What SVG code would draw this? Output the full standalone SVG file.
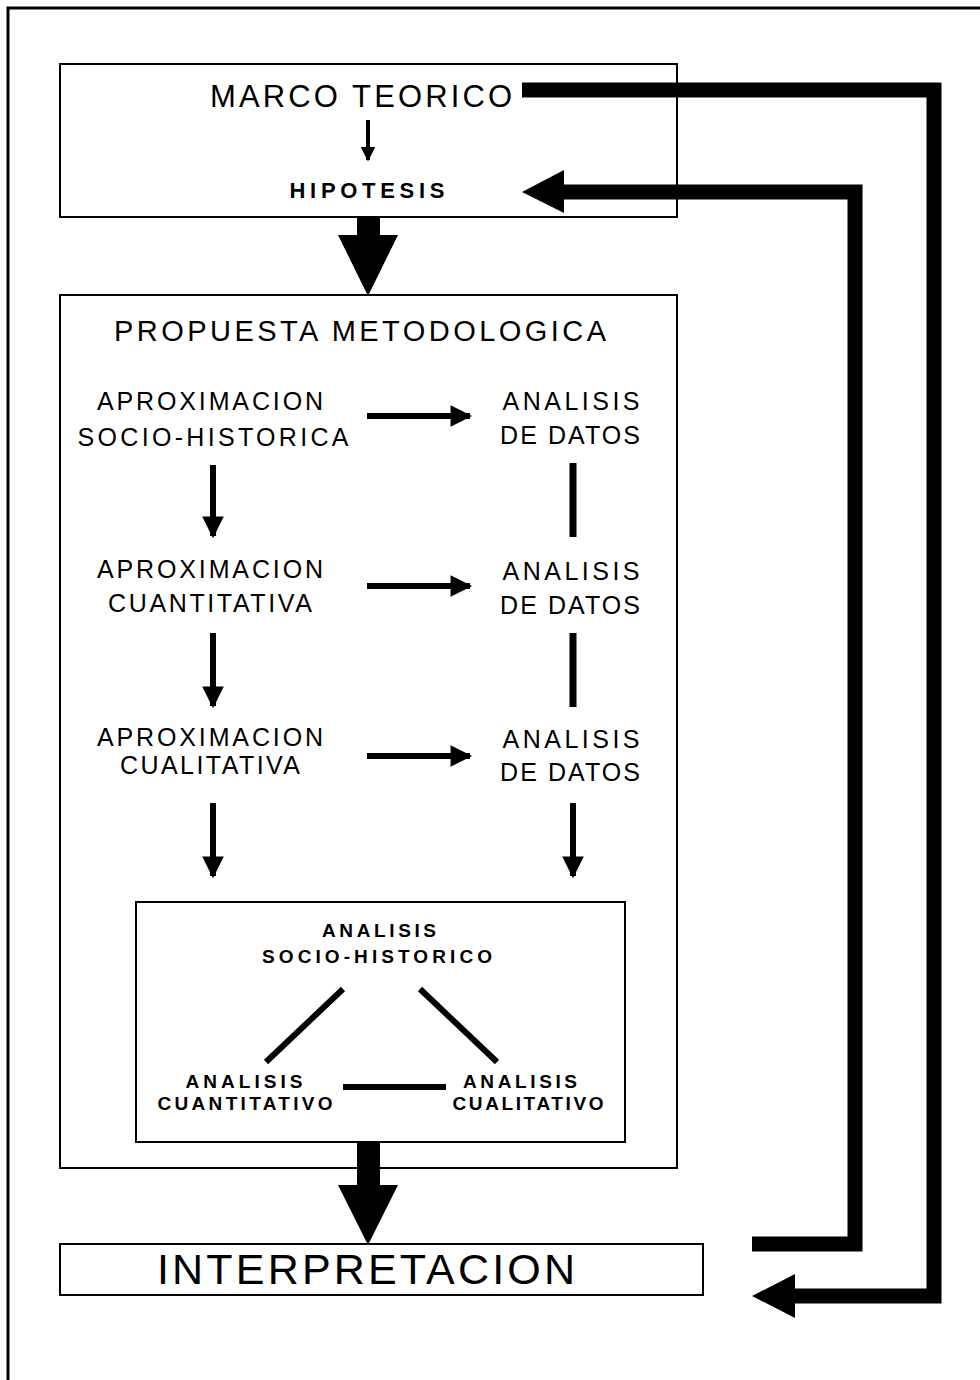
<svg xmlns="http://www.w3.org/2000/svg" width="980" height="1380" viewBox="0 0 980 1380">
<style>
.box{fill:none;stroke:#000;stroke-width:2}
.t{font-family:"Liberation Sans",Arial,sans-serif;fill:#000;text-anchor:middle}
.b{font-weight:bold}
.ln{stroke:#000;fill:none}
.fb{stroke:#000;stroke-width:15;fill:none;stroke-linejoin:miter}
</style>
<defs>
<marker id="ah" viewBox="0 0 10 10" refX="9" refY="5" markerWidth="4" markerHeight="3.6" orient="auto" markerUnits="strokeWidth">
<path d="M0,0 L10,5 L0,10 z" fill="#000"/>
</marker>
</defs>
<rect width="980" height="1380" fill="#fff"/>
<path d="M8,1380 V8 H980" fill="none" stroke="#000" stroke-width="3"/>

<g id="marco">
<rect class="box" x="60" y="64" width="617" height="153"/>
<text class="t" x="361" y="107" font-size="31" textLength="302" lengthAdjust="spacing">MARCO TEORICO</text>
<text class="t b" x="367" y="198" font-size="22" textLength="155" lengthAdjust="spacing">HIPOTESIS</text>
</g>

<g id="propuesta">
<rect class="box" x="60" y="295" width="617" height="873"/>
<text class="t" x="360" y="341" font-size="29" textLength="492" lengthAdjust="spacing">PROPUESTA METODOLOGICA</text>
</g>

<g id="aprox1">
<text class="t" x="210" y="410" font-size="25" textLength="226" lengthAdjust="spacing">APROXIMACION</text>
<text class="t" x="213" y="446" font-size="25" textLength="271" lengthAdjust="spacing">SOCIO-HISTORICA</text>
</g>
<g id="datos1">
<text class="t" x="571" y="410" font-size="25" textLength="137" lengthAdjust="spacing">ANALISIS</text>
<text class="t" x="570" y="444" font-size="25" textLength="140" lengthAdjust="spacing">DE DATOS</text>
</g>
<g id="aprox2">
<text class="t" x="210" y="578" font-size="25" textLength="226" lengthAdjust="spacing">APROXIMACION</text>
<text class="t" x="210" y="612" font-size="25" textLength="204" lengthAdjust="spacing">CUANTITATIVA</text>
</g>
<g id="datos2">
<text class="t" x="571" y="580" font-size="25" textLength="137" lengthAdjust="spacing">ANALISIS</text>
<text class="t" x="570" y="614" font-size="25" textLength="140" lengthAdjust="spacing">DE DATOS</text>
</g>
<g id="aprox3">
<text class="t" x="210" y="746" font-size="25" textLength="226" lengthAdjust="spacing">APROXIMACION</text>
<text class="t" x="210" y="774" font-size="25" textLength="180" lengthAdjust="spacing">CUALITATIVA</text>
</g>
<g id="datos3">
<text class="t" x="571" y="748" font-size="25" textLength="137" lengthAdjust="spacing">ANALISIS</text>
<text class="t" x="570" y="781" font-size="25" textLength="140" lengthAdjust="spacing">DE DATOS</text>
</g>

<g id="analisis">
<rect class="box" x="136" y="902" width="489" height="240"/>
<text class="t b" x="379" y="937" font-size="19" textLength="114" lengthAdjust="spacing">ANALISIS</text>
<text class="t b" x="377" y="963" font-size="19" textLength="230" lengthAdjust="spacing">SOCIO-HISTORICO</text>
<text class="t b" x="244" y="1088" font-size="19" textLength="117" lengthAdjust="spacing">ANALISIS</text>
<text class="t b" x="245" y="1110" font-size="19" textLength="175" lengthAdjust="spacing">CUANTITATIVO</text>
<text class="t b" x="520" y="1088" font-size="19" textLength="114" lengthAdjust="spacing">ANALISIS</text>
<text class="t b" x="528" y="1110" font-size="19" textLength="151" lengthAdjust="spacing">CUALITATIVO</text>
</g>

<g id="interpretacion">
<rect class="box" x="60" y="1244" width="643" height="51"/>
<text class="t" x="366" y="1284" font-size="43" textLength="418" lengthAdjust="spacing">INTERPRETACION</text>
</g>

<g id="connectors">
<line class="ln" x1="368" y1="120" x2="368" y2="160" stroke-width="4" marker-end="url(#ah)"/>
<polygon points="357,217 380,217 380,235 398,235 368,296 338,235 357,235" fill="#000"/>
<polygon points="357,1141 380,1141 380,1185 398,1185 368,1245 338,1185 357,1185" fill="#000"/>

<line class="ln" x1="367" y1="416" x2="470" y2="416" stroke-width="6" marker-end="url(#ah)"/>
<line class="ln" x1="367" y1="586" x2="470" y2="586" stroke-width="6" marker-end="url(#ah)"/>
<line class="ln" x1="367" y1="756" x2="470" y2="756" stroke-width="6" marker-end="url(#ah)"/>

<line class="ln" x1="213" y1="465" x2="213" y2="536" stroke-width="6" marker-end="url(#ah)"/>
<line class="ln" x1="213" y1="633" x2="213" y2="706" stroke-width="6" marker-end="url(#ah)"/>
<line class="ln" x1="213" y1="803" x2="213" y2="876" stroke-width="6" marker-end="url(#ah)"/>
<line class="ln" x1="573" y1="803" x2="573" y2="876" stroke-width="6" marker-end="url(#ah)"/>

<line class="ln" x1="573" y1="463" x2="573" y2="537" stroke-width="7"/>
<line class="ln" x1="573" y1="633" x2="573" y2="707" stroke-width="7"/>

<line class="ln" x1="343" y1="989" x2="266" y2="1062" stroke-width="6"/>
<line class="ln" x1="420" y1="989" x2="497" y2="1062" stroke-width="6"/>
<line class="ln" x1="343" y1="1087" x2="446" y2="1087" stroke-width="6"/>

<path class="fb" d="M522,90 H934 V1296 H793"/>
<polygon points="752,1296 795,1274 795,1318" fill="#000"/>
<path class="fb" d="M752,1244 H855 V192 H562"/>
<polygon points="522,192 564,170 564,213" fill="#000"/>
</g>
</svg>
